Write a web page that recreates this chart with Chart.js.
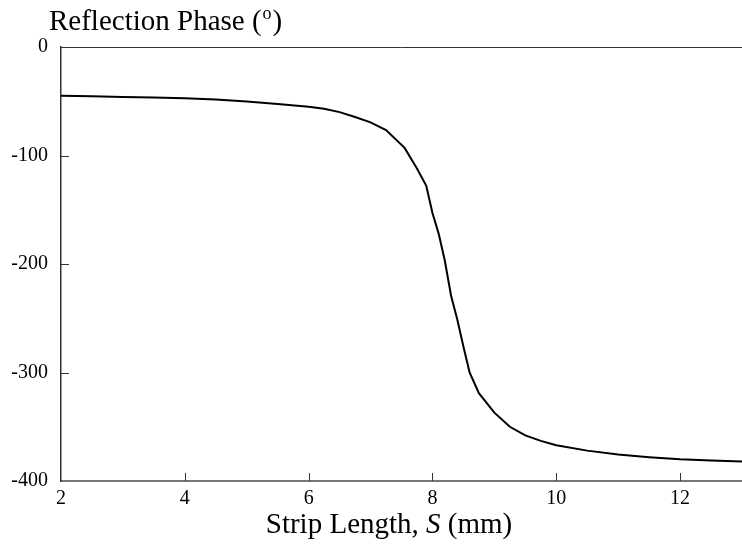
<!DOCTYPE html>
<html>
<head>
<meta charset="utf-8">
<script src="https://cdn.jsdelivr.net/npm/chart.js@4"></script>
<style>
  body { margin: 0; background: #fff; }
  #wrap { width: 742px; height: 546px; }
</style>
</head>
<body>
<div id="wrap"><canvas id="phaseChart" width="742" height="546"></canvas></div>
<script>
// --- DATA ---
const stripLength = [2, 2.5, 3, 3.5, 4, 4.5, 5, 5.5, 6, 6.25, 6.5, 6.75, 7, 7.25, 7.55, 7.75, 7.9,
                     8, 8.1, 8.2, 8.3, 8.4, 8.5, 8.6, 8.75, 9, 9.25, 9.5, 9.75, 10, 10.5, 11, 11.5, 12, 12.5, 13];
const reflPhase = [-45, -45.5, -46, -46.5, -47.2, -48.5, -50.3, -52.5, -55, -57, -60, -64.5, -69.5, -76.5, -93, -112, -128,
                   -153, -172, -197, -229, -251, -276, -300, -319, -337, -350, -358, -363, -367, -372, -375.5, -378, -380, -381, -382];
const xTicks = [2, 4, 6, 8, 10, 12];
const yTicks = [0, -100, -200, -300, -400];

const FONT = '"Liberation Serif", "Times New Roman", serif';

// inward ticks, top frame line, axis titles
const decor = {
    id: 'decor',
    afterDraw(chart) {
        const ctx = chart.ctx;
        const a = chart.chartArea;
        const xs = chart.scales.x, ys = chart.scales.y;
        ctx.save();
        ctx.strokeStyle = '#333';
        ctx.lineWidth = 1;
        // top frame
        ctx.beginPath();
        ctx.moveTo(a.left, a.top + 0.5);
        ctx.lineTo(a.right, a.top + 0.5);
        ctx.stroke();
        // x ticks pointing up
        xTicks.slice(1).forEach(v => {
            const px = Math.round(xs.getPixelForValue(v)) + 0.5;
            ctx.beginPath();
            ctx.moveTo(px, a.bottom);
            ctx.lineTo(px, a.bottom - 8);
            ctx.stroke();
        });
        // y ticks pointing right
        yTicks.slice(1, -1).forEach(v => {
            const py = Math.round(ys.getPixelForValue(v)) + 0.5;
            ctx.beginPath();
            ctx.moveTo(a.left, py);
            ctx.lineTo(a.left + 8, py);
            ctx.stroke();
        });
        // y title
        ctx.fillStyle = '#000';
        ctx.textBaseline = 'alphabetic';
        ctx.textAlign = 'left';
        ctx.font = '29px ' + FONT;
        let t = 'Reflection Phase (';
        let x0 = 49;
        ctx.fillText(t, x0, 30);
        x0 += ctx.measureText(t).width;
        ctx.font = '18px ' + FONT;
        ctx.fillText('o', x0 + 1, 19);
        x0 += ctx.measureText('o').width + 2;
        ctx.font = '29px ' + FONT;
        ctx.fillText(')', x0, 30);
        // x title
        const parts = [['Strip Length, ', ''], ['S', 'italic '], [' (mm)', '']];
        let w = 0;
        parts.forEach(p => { ctx.font = p[1] + '29px ' + FONT; w += ctx.measureText(p[0]).width; });
        let xx = 389 - w / 2;
        parts.forEach(p => {
            ctx.font = p[1] + '29px ' + FONT;
            ctx.fillText(p[0], xx, 533);
            xx += ctx.measureText(p[0]).width;
        });
        ctx.restore();
    }
};

new Chart(document.getElementById('phaseChart'), {
    type: 'line',
    data: {
        datasets: [{
            data: stripLength.map((s, i) => ({ x: s, y: reflPhase[i] })),
            borderColor: '#000',
            borderWidth: 2,
            pointRadius: 0,
            tension: 0,
            fill: false
        }]
    },
    options: {
        responsive: false,
        animation: false,
        layout: { padding: { top: 47, right: 0, left: 0, bottom: 0 } },
        plugins: { legend: { display: false }, tooltip: { enabled: false } },
        scales: {
            x: {
                type: 'linear',
                min: 2,
                max: 13,
                afterFit: s => { s.height = 65; s.paddingRight = 0; s.paddingLeft = 0; },
                afterBuildTicks: s => { s.ticks = xTicks.concat([13]).map(v => ({ value: v })); },
                grid: { display: false },
                border: { display: true, color: '#777', width: 2 },
                ticks: {
                    color: '#000',
                    font: { family: FONT, size: 20 },
                    padding: -2,
                    maxRotation: 0,
                    autoSkip: false,
                    callback: v => (v === 13 ? '' : v)
                }
            },
            y: {
                min: -400,
                max: 0,
                afterFit: s => { s.width = 61; s.paddingTop = 0; s.paddingBottom = 0; },
                afterBuildTicks: s => { s.ticks = yTicks.map(v => ({ value: v })); },
                grid: { display: false },
                border: { display: true, color: '#333', width: 1.5 },
                ticks: {
                    color: '#000',
                    font: { family: FONT, size: 20 },
                    padding: 5
                }
            }
        }
    },
    plugins: [decor]
});
</script>
</body>
</html>
